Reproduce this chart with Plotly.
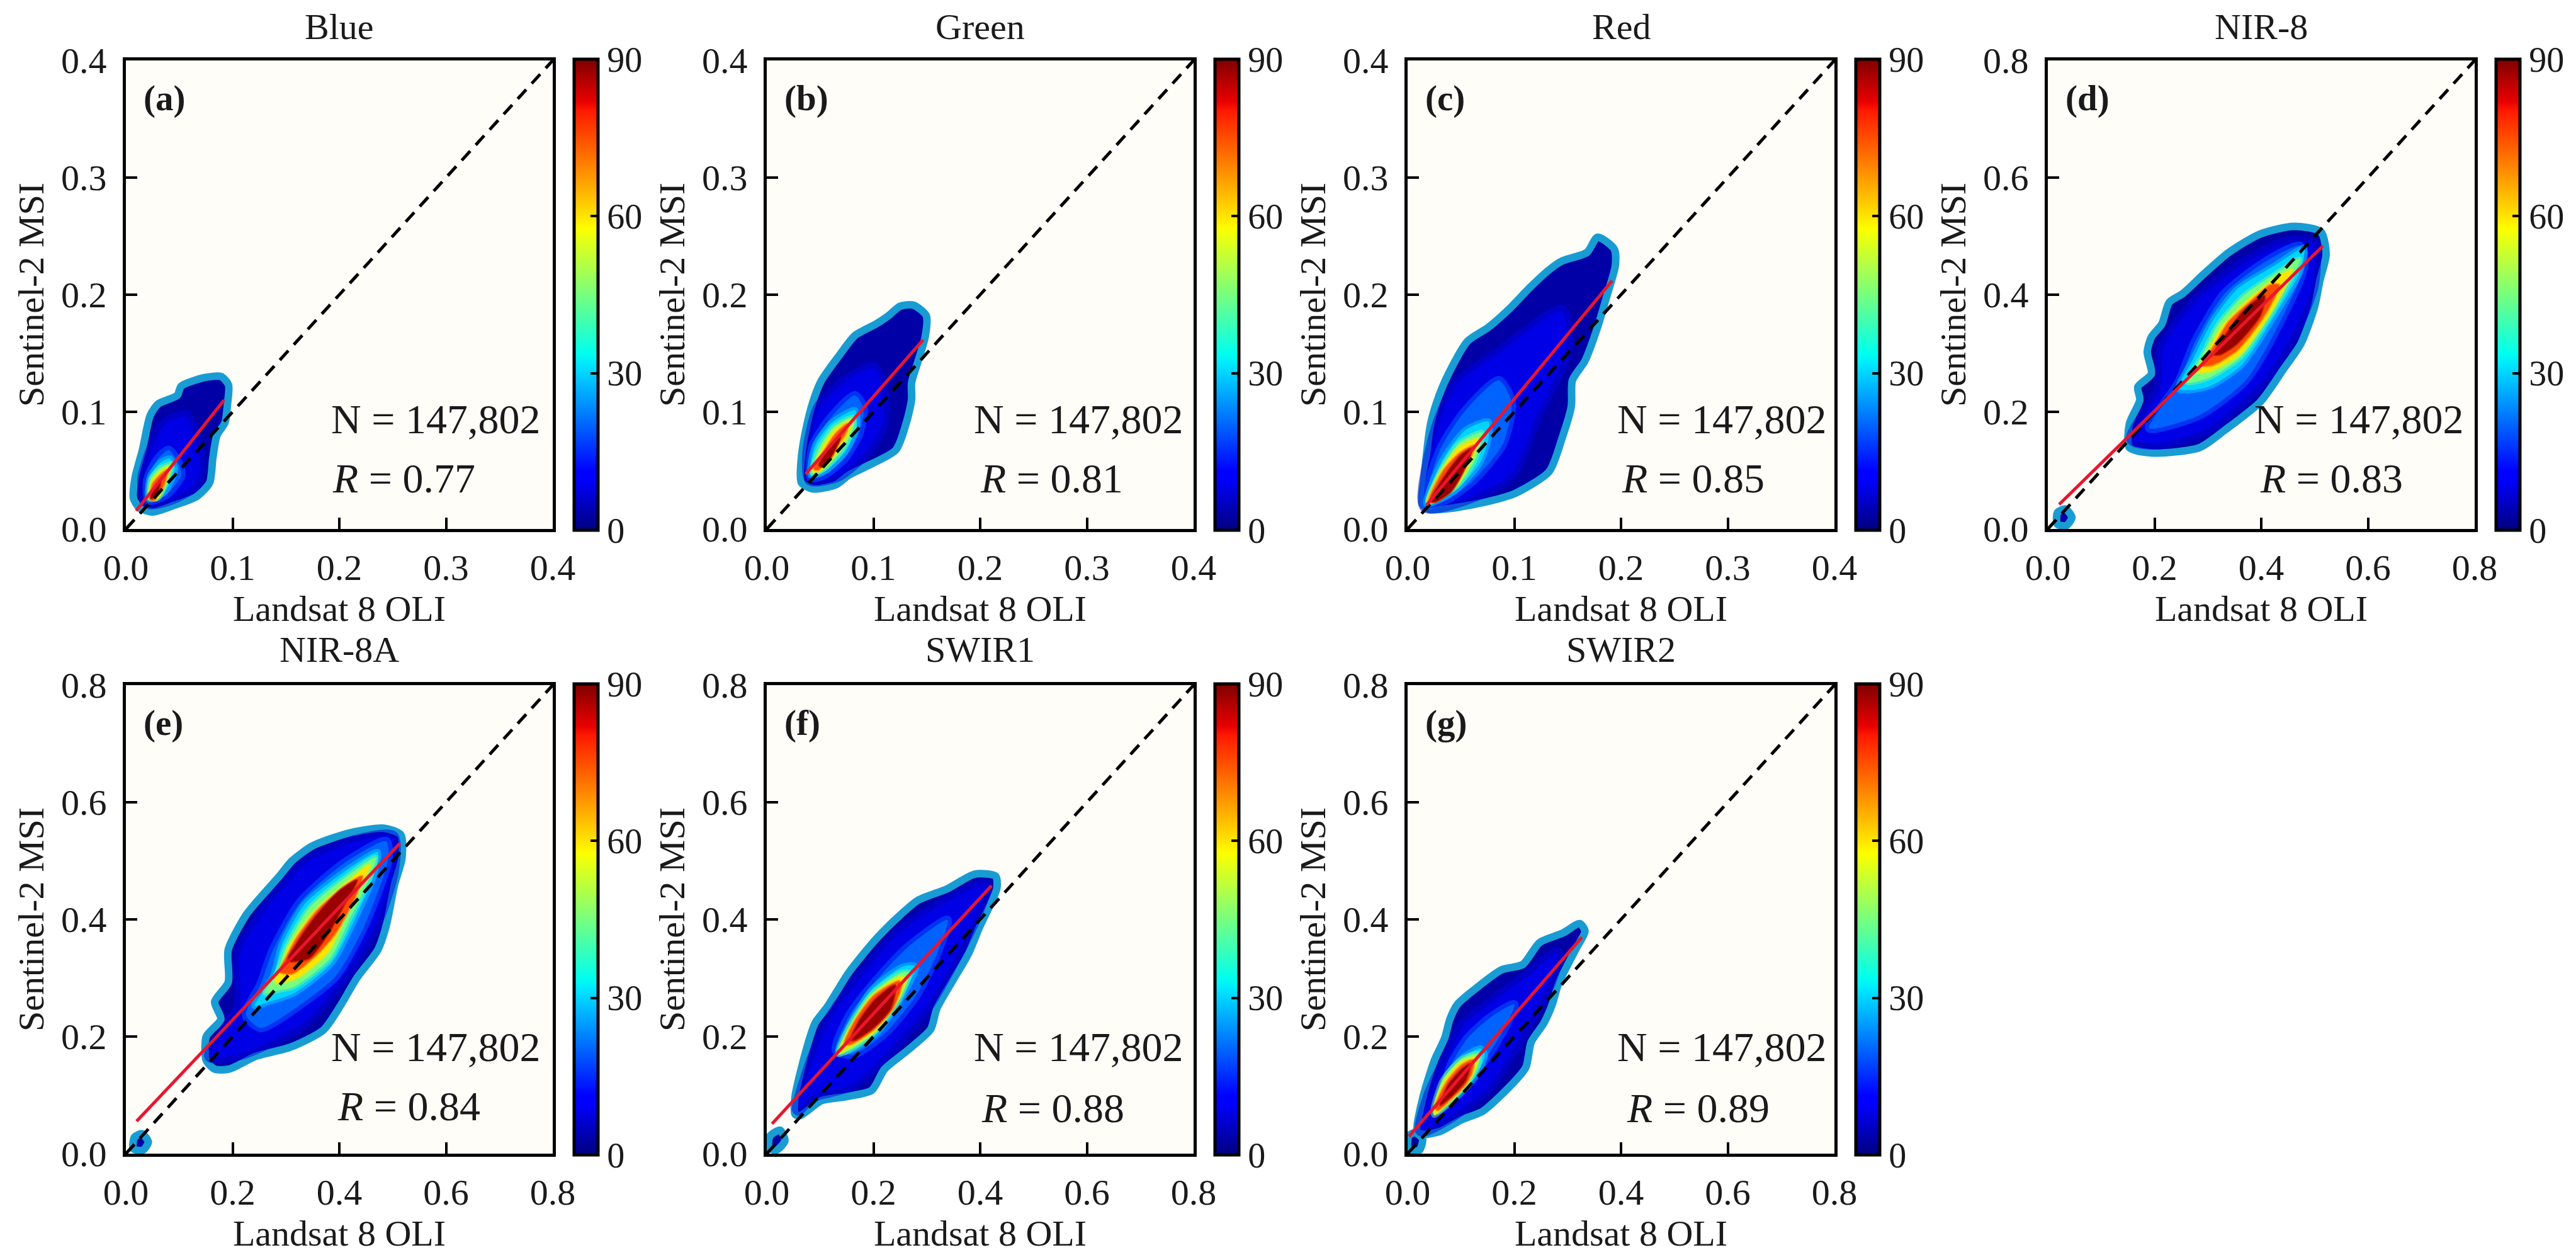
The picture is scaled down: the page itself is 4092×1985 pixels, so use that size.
import plotly.graph_objects as go

# panels, left to right then second row
panel_names = ["Blue", "Green", "Red", "NIR-8", "NIR-8A", "SWIR1", "SWIR2"]
panel_tags = ["(a)", "(b)", "(c)", "(d)", "(e)", "(f)", "(g)"]
r_values = ["0.77", "0.81", "0.85", "0.83", "0.84", "0.88", "0.89"]
n_label = "147,802"
axis_max = [0.4, 0.4, 0.4, 0.8, 0.8, 0.8, 0.8]
axis_step = [0.1, 0.1, 0.1, 0.2, 0.2, 0.2, 0.2]
cbar_ticks = [0, 30, 60, 90]

# density levels of the nested zones, read against the colour bar
rim_level_color = "#189cd3"
base_level = 3
zone_levels = [8, 20, 30, 45, 60, 75, 88]
zone_soft_px = [20, 14, 10, 8, 6, 4, 4]

# fit line ends, (x0, y0), (x1, y1)
fit_a = [(0.0096, 0.0156), (0.092, 0.110)]
fit_b = [(0.0364, 0.0468), (0.1465, 0.1615)]
fit_c = [(0.0177, 0.0204), (0.1917, 0.2120)]
fit_d = [(0.0212, 0.0419), (0.5157, 0.4833)]
fit_e = [(0.0200, 0.0553), (0.5133, 0.5296)]
fit_f = [(0.0098, 0.0509), (0.4213, 0.4577)]
fit_g = [(0.0024, 0.0294), (0.3265, 0.3695)]

# outer edge of the point cloud in each panel
rim_a = [(.0254, .0145), (.0126, .0181), (.0071, .0262), (.0087, .0441), (.0155, .0674), (.0228, .0970),
         (.0303, .1068), (.0480, .1140), (.0519, .1220), (.0735, .1292), (.0893, .1301), (.0962, .1229),
         (.0952, .1068), (.0928, .0907), (.0853, .0799), (.0814, .0602), (.0785, .0396), (.0667, .0280),
         (.0441, .0199)]
rim_b = [(.0433, .0342), (.0324, .0396), (.0324, .0602), (.0364, .0835), (.0433, .1086), (.0511, .1265),
         (.0678, .1480), (.0826, .1651), (.1023, .1749), (.1141, .1821), (.1249, .1901), (.1377, .1910),
         (.1495, .1821), (.1485, .1642), (.1416, .1427), (.1357, .1247), (.1357, .1104), (.1308, .0907),
         (.1209, .0674), (.0924, .0530), (.0767, .0459), (.0649, .0378)]
rim_c = [(.0206, .0167), (.0138, .0213), (.0157, .0454), (.0216, .0898), (.0295, .1139), (.0393, .1343),
         (.0560, .1602), (.0757, .1722), (.0954, .1880), (.1150, .2065), (.1327, .2213), (.1445, .2287),
         (.1681, .2361), (.1780, .2491), (.1937, .2389), (.1947, .2250), (.1868, .1991), (.1770, .1694),
         (.1662, .1435), (.1544, .1269), (.1534, .1046), (.1445, .0769), (.1327, .0491), (.1013, .0306),
         (.0737, .0231), (.0403, .0176)]
rim_d = [(.1529, .1389), (.1529, .1796), (.1725, .2204), (.1686, .2426), (.1941, .2648), (.1863, .3019),
         (.1941, .3278), (.2137, .3500), (.2275, .3870), (.2529, .4019), (.2922, .4352), (.3392, .4722),
         (.3980, .5037), (.4608, .5167), (.5118, .5074), (.5216, .4685), (.5098, .4241), (.5000, .3796),
         (.4745, .3167), (.4412, .2722), (.3980, .2167), (.3314, .1685), (.2843, .1389), (.1980, .1296)]
rim_e = [(.1506, .1593), (.1506, .2000), (.1780, .2296), (.1663, .2593), (.1918, .2926), (.1918, .3481),
         (.2251, .4074), (.2447, .4296), (.2878, .4741), (.3114, .5000), (.3506, .5259), (.4212, .5481),
         (.4839, .5556), (.5153, .5444), (.5173, .5037), (.5035, .4593), (.4878, .3889), (.4722, .3481),
         (.4329, .3000), (.4016, .2519), (.3702, .2111), (.3075, .1815), (.2447, .1667), (.1937, .1444),
         (.1663, .1444)]
rim_f = [(.0531, .0670), (.0531, .0975), (.0748, .1799), (.0906, .2229), (.1142, .2516), (.1535, .3090),
         (.2047, .3663), (.2480, .4057), (.2835, .4326), (.3386, .4523), (.3898, .4774), (.4291, .4738),
         (.4311, .4523), (.3976, .3842), (.3780, .3412), (.3504, .2982), (.3189, .2480), (.3071, .2122),
         (.2638, .1763), (.2205, .1441), (.1969, .1082), (.1496, .0975), (.1024, .0903), (.0630, .0652)]
rim_g = [(.0182, .0365), (.0281, .0938), (.0498, .1583), (.0696, .1976), (.0794, .2299), (.0933, .2549),
         (.1249, .2800), (.1763, .3140), (.2158, .3230), (.2474, .3605), (.2909, .3767), (.3225, .3928),
         (.3324, .3802), (.3146, .3480), (.2830, .2907), (.2711, .2549), (.2553, .2227), (.2316, .1905),
         (.2217, .1475), (.1960, .1189), (.1407, .0723), (.1012, .0580), (.0617, .0383), (.0340, .0329)]

# small cluster near the origin (absent in a, b, c)
spot_d = [(.018, .008), (.018, .028), (.033, .034), (.045, .020), (.035, .006)]
spot_e = [(.014, .008), (.016, .028), (.030, .034), (.042, .020), (.032, .006)]
spot_f = [(.004, .010), (.006, .030), (.025, .040), (.034, .022), (.018, .006)]
spot_g = [(.002, .006), (.002, .030), (.014, .036), (.028, .025), (.022, .006)]

# zones, one outline per entry of zone_levels
zones_a = [
    [(.0205, .0226), (.0165, .0423), (.0244, .0674), (.0362, .0889), (.0558, .0961), (.0657, .0746), (.0696, .0530), (.0637, .0369), (.0401, .0253)],
    [(.0214, .0244), (.0204, .0423), (.0303, .0602), (.0401, .0674), (.0490, .0566), (.0519, .0459), (.0381, .0297)],
    [(.0214, .0253), (.0224, .0441), (.0323, .0566), (.0411, .0602), (.0460, .0513), (.0362, .0315)],
    [(.0220, .0262), (.0234, .0432), (.0323, .0522), (.0431, .0557), (.0372, .0387), (.0303, .0262)],
    [(.0220, .0262), (.0244, .0405), (.0332, .0495), (.0411, .0530), (.0362, .0369), (.0283, .0253)],
    [(.0224, .0262), (.0254, .0387), (.0342, .0477), (.0391, .0504), (.0342, .0351), (.0254, .0244)],
    [(.0234, .0262), (.0264, .0342), (.0323, .0405), (.0283, .0280)],
]
zones_b = [
    [(.0413, .0423), (.0393, .0656), (.0492, .1032), (.0747, .1265), (.1003, .1373), (.1082, .1211), (.1082, .0889), (.0924, .0656), (.0669, .0459)],
    [(.0413, .0441), (.0433, .0710), (.0610, .0961), (.0826, .1140), (.0905, .1032), (.0865, .0817), (.0728, .0602), (.0531, .0459)],
    [(.0413, .0459), (.0452, .0710), (.0610, .0907), (.0826, .1014), (.0846, .0889), (.0747, .0674), (.0551, .0495)],
    [(.0423, .0477), (.0492, .0692), (.0629, .0871), (.0806, .0953), (.0816, .0871), (.0708, .0674), (.0511, .0495)],
    [(.0433, .0495), (.0511, .0665), (.0639, .0844), (.0787, .0925), (.0767, .0835), (.0688, .0692), (.0492, .0495)],
    [(.0442, .0513), (.0531, .0656), (.0649, .0817), (.0757, .0898), (.0747, .0835), (.0659, .0710), (.0482, .0504)],
    [(.0492, .0548), (.0610, .0710), (.0688, .0781), (.0610, .0620), (.0511, .0530)],
]
zones_c = [
    [(.0167, .0194), (.0265, .0824), (.0462, .1231), (.0895, .1528), (.1445, .1861), (.1485, .1528), (.1209, .0972), (.0973, .0472), (.0580, .0269)],
    [(.0167, .0204), (.0305, .0676), (.0541, .1009), (.0855, .1269), (.0973, .1083), (.0895, .0731), (.0619, .0417), (.0364, .0250)],
    [(.0177, .0213), (.0324, .0583), (.0541, .0843), (.0757, .0917), (.0757, .0769), (.0678, .0565), (.0442, .0324)],
    [(.0187, .0222), (.0305, .0491), (.0482, .0731), (.0698, .0824), (.0639, .0602), (.0482, .0380), (.0305, .0269)],
    [(.0187, .0231), (.0324, .0509), (.0482, .0694), (.0659, .0769), (.0580, .0565), (.0442, .0361), (.0285, .0250)],
    [(.0197, .0231), (.0344, .0509), (.0501, .0657), (.0629, .0713), (.0541, .0528), (.0423, .0343), (.0265, .0231)],
    [(.0216, .0241), (.0364, .0472), (.0501, .0630), (.0600, .0685), (.0521, .0491), (.0403, .0315), (.0256, .0231)],
]
zones_d = [
    [(.1588, .1537), (.2098, .2389), (.2176, .3130), (.2765, .3870), (.3627, .4500), (.4412, .4870), (.4961, .4870), (.4961, .4167), (.4647, .3426), (.4020, .2537), (.3000, .1722), (.2059, .1463)],
    [(.1902, .1722), (.2451, .2500), (.2765, .3204), (.3314, .4019), (.4098, .4574), (.4725, .4833), (.4804, .4500), (.4333, .3500), (.3706, .2537), (.2843, .1944)],
    [(.2451, .2389), (.2725, .2907), (.3078, .3537), (.3549, .4093), (.4255, .4500), (.4804, .4796), (.4725, .4389), (.4255, .3648), (.3627, .2796), (.3000, .2426)],
    [(.2608, .2500), (.2882, .2944), (.3196, .3500), (.3667, .3981), (.4255, .4352), (.4725, .4611), (.4608, .4352), (.4216, .3722), (.3627, .2944), (.3000, .2574)],
    [(.2804, .2685), (.3000, .3019), (.3275, .3463), (.3706, .3870), (.4216, .4241), (.4569, .4426), (.4451, .4167), (.4137, .3648), (.3588, .2981), (.3000, .2685)],
    [(.2882, .2796), (.3118, .3130), (.3392, .3537), (.3784, .3870), (.4176, .4167), (.4333, .4167), (.4059, .3648), (.3549, .3056), (.3078, .2796)],
    [(.3118, .2981), (.3392, .3389), (.3706, .3759), (.4059, .3981), (.3980, .3648), (.3549, .3167), (.3235, .2981)],
]
zones_e = [
    [(.1584, .1667), (.2133, .2519), (.2133, .3407), (.2604, .4148), (.3388, .4963), (.4290, .5333), (.4996, .5407), (.4996, .4815), (.4682, .3926), (.4094, .3037), (.3310, .2222), (.2133, .1704)],
    [(.2251, .2370), (.2525, .2889), (.2761, .3481), (.3271, .4296), (.4094, .4963), (.4878, .5333), (.4918, .5037), (.4486, .3926), (.3937, .3037), (.3231, .2519), (.2525, .2148)],
    [(.2412, .2519), (.2761, .3037), (.2918, .3556), (.3349, .4259), (.4094, .4815), (.4722, .5148), (.4643, .4741), (.4290, .4000), (.3859, .3259), (.3153, .2741), (.2682, .2593)],
    [(.2604, .2741), (.2839, .3111), (.2996, .3519), (.3427, .4185), (.4094, .4704), (.4682, .5056), (.4565, .4704), (.4212, .4037), (.3820, .3333), (.3153, .2852), (.2800, .2778)],
    [(.2800, .2926), (.2918, .3185), (.3075, .3556), (.3506, .4111), (.4094, .4593), (.4565, .4926), (.4447, .4667), (.4133, .4111), (.3780, .3444), (.3192, .3000)],
    [(.2878, .3111), (.2996, .3333), (.3192, .3667), (.3584, .4148), (.4094, .4556), (.4427, .4741), (.4290, .4370), (.3937, .3778), (.3584, .3407), (.3114, .3074)],
    [(.3035, .3296), (.3231, .3630), (.3545, .4037), (.4016, .4500), (.4329, .4667), (.4094, .4259), (.3780, .3741), (.3427, .3333)],
]
zones_f = [
    [(.0591, .0760), (.0866, .1620), (.1220, .2337), (.1732, .2982), (.2480, .3771), (.3386, .4309), (.4094, .4595), (.3898, .4022), (.3504, .3305), (.3031, .2552), (.2323, .1799), (.1614, .1190), (.0827, .0975)],
    [(.1299, .1763), (.1535, .2337), (.2008, .2910), (.2638, .3520), (.3386, .3986), (.3189, .3412), (.2795, .2695), (.2205, .2050), (.1614, .1692)],
    [(.1339, .1728), (.1575, .2229), (.1969, .2803), (.2559, .3196), (.2795, .3196), (.2520, .2659), (.2087, .2086), (.1654, .1799)],
    [(.1339, .1692), (.1535, .2158), (.1969, .2731), (.2520, .3090), (.2677, .3090), (.2480, .2624), (.2047, .2086), (.1614, .1799)],
    [(.1358, .1728), (.1575, .2158), (.1969, .2695), (.2520, .3018), (.2598, .2982), (.2402, .2552), (.2008, .2086), (.1575, .1835)],
    [(.1457, .1871), (.1654, .2265), (.2008, .2695), (.2480, .2946), (.2520, .2875), (.2362, .2480), (.2008, .2122), (.1575, .1871)],
    [(.1575, .1943), (.1732, .2265), (.2047, .2642), (.2402, .2875), (.2323, .2480), (.2008, .2158), (.1654, .1943)],
]
zones_g = [
    [(.0261, .0401), (.0419, .1010), (.0775, .1690), (.1051, .2191), (.1644, .2621), (.2277, .3051), (.2791, .3409), (.2672, .2943), (.2277, .2263), (.1960, .1761), (.1486, .1117), (.0775, .0616)],
    [(.0656, .0974), (.0814, .1511), (.1130, .1976), (.1565, .2334), (.2000, .2549), (.1802, .2120), (.1407, .1547), (.1012, .1117), (.0617, .0795)],
    [(.0538, .0795), (.0735, .1332), (.1051, .1654), (.1368, .1797), (.1447, .1690), (.1289, .1332), (.0933, .0974), (.0577, .0723)],
    [(.0478, .0759), (.0656, .1260), (.1012, .1618), (.1328, .1708), (.1348, .1583), (.1170, .1260), (.0893, .0974), (.0498, .0652)],
    [(.0498, .0759), (.0696, .1242), (.1012, .1565), (.1289, .1636), (.1269, .1475), (.1130, .1224), (.0854, .0956), (.0518, .0687)],
    [(.0518, .0795), (.0735, .1224), (.1012, .1511), (.1229, .1600), (.1209, .1404), (.1091, .1189), (.0814, .0938), (.0557, .0741)],
    [(.0617, .0866), (.0775, .1189), (.1012, .1439), (.1170, .1529), (.1091, .1260), (.0854, .1010), (.0617, .0831)],
]

rims = [rim_a, rim_b, rim_c, rim_d, rim_e, rim_f, rim_g]
spots = [None, None, None, spot_d, spot_e, spot_f, spot_g]
zones = [zones_a, zones_b, zones_c, zones_d, zones_e, zones_f, zones_g]
fits = [fit_a, fit_b, fit_c, fit_d, fit_e, fit_f, fit_g]

# layout, pixels of the 4092x1985 page
W, H = 4092, 1985
FONT = "Liberation Serif"
left_px = [192, 1210, 2228, 3245, 192, 1210, 2228]
top_px = [88, 88, 88, 88, 1080, 1080, 1080]
panel_w, panel_h = 678, 744
title_y_px = [35, 35, 35, 35, 1023, 1023, 1023]
# N and R label offsets inside each panel
n_x = [324, 327, 331, 326, 324, 327, 331]
n_y = [175, 175, 175, 175, 170, 170, 170]
r_x = [326, 337, 338, 335, 334, 339, 346]
r_y = [81, 81, 81, 81, 76, 73, 73]

jet = [(0, "#00007f"), (0.11, "#0000ff"), (0.125, "#0000ff"), (0.35, "#00e5ff"), (0.375, "#00ffef"),
       (0.64, "#fcff00"), (0.66, "#ffea00"), (0.89, "#ff1a00"), (0.91, "#e80000"), (1, "#7f0000")]


def level_color(v, alpha=1):
    t = v / 90
    for (t0, c0), (t1, c1) in zip(jet, jet[1:]):
        if t <= t1:
            f = (t - t0) / (t1 - t0)
            rgb = [round(int(c0[k:k + 2], 16) * (1 - f) + int(c1[k:k + 2], 16) * f) for k in (1, 3, 5)]
            return "rgba(%d,%d,%d,%s)" % (*rgb, alpha)
    return jet[-1][1]


def blob(points, axis_id, fill, line_color=None, line_width=0):
    xs, ys = zip(*(list(points) + list(points[:1])))
    return go.Scatter(x=xs, y=ys, xaxis="x" + axis_id, yaxis="y" + axis_id, mode="lines", fill="toself",
                      fillcolor=fill, hoverinfo="skip", showlegend=False,
                      line=dict(shape="spline", smoothing=0.7, color=line_color or fill, width=line_width))


fig = go.Figure()
layout = {}
notes = []
for i in range(7):
    n = i + 1
    aid = "" if i == 0 else str(n)
    x0, y0 = left_px[i], top_px[i]

    layout["xaxis" + aid] = dict(
        domain=[x0 / W, (x0 + panel_w) / W], range=[0, axis_max[i]], dtick=axis_step[i], tick0=0,
        tickformat=".1f", ticks="inside", ticklen=18, tickwidth=4, tickcolor="black", showgrid=False,
        zeroline=False, showline=True, linecolor="black", linewidth=5, mirror=True, anchor="y" + aid,
        ticklabelstandoff=6, tickfont=dict(family=FONT, size=58, color="#1a1a1a"),
        title=dict(text="Landsat 8 OLI", standoff=4, font=dict(family=FONT, size=58, color="#1a1a1a")))
    layout["yaxis" + aid] = dict(
        domain=[1 - (y0 + panel_h) / H, 1 - y0 / H], range=[0, axis_max[i]], dtick=axis_step[i], tick0=0,
        tickformat=".1f", ticks="inside", ticklen=18, tickwidth=4, tickcolor="black", showgrid=False,
        zeroline=False, showline=True, linecolor="black", linewidth=5, mirror=True, anchor="x" + aid,
        ticklabelstandoff=14, tickfont=dict(family=FONT, size=58, color="#1a1a1a"),
        title=dict(text="Sentinel-2 MSI", standoff=10, font=dict(family=FONT, size=58, color="#1a1a1a")))
    layout["coloraxis" + aid] = dict(
        cmin=0, cmax=90, colorscale=[[t, c] for t, c in jet],
        colorbar=dict(x=(x0 + panel_w + 34) / W, xanchor="left", y=1 - (y0 - 2) / H, yanchor="top",
                      len=panel_h + 4, lenmode="pixels", thickness=38, thicknessmode="pixels", xpad=0, ypad=0,
                      outlinewidth=5, outlinecolor="black", tickvals=cbar_ticks, ticks="inside", ticklen=14,
                      tickwidth=4, tickcolor="black", tickfont=dict(family=FONT, size=56, color="#1a1a1a")))

    # point cloud, outer zone first
    fig.add_trace(blob(rims[i], aid, level_color(base_level), rim_level_color, 12))
    if spots[i]:
        fig.add_trace(blob(spots[i], aid, level_color(base_level), rim_level_color, 12))
    for lev, soft, pts in zip(zone_levels, zone_soft_px, zones[i]):
        # half transparent edge softens the step to the zone below
        fig.add_trace(blob(pts, aid, level_color(lev), level_color(lev, 0.5), soft))

    # 1:1 line and fit line
    fig.add_trace(go.Scatter(x=[0, axis_max[i]], y=[0, axis_max[i]], xaxis="x" + aid, yaxis="y" + aid, mode="lines",
                             line=dict(color="black", width=5, dash="20px,13px"), showlegend=False, hoverinfo="skip"))
    fx, fy = zip(*fits[i])
    fig.add_trace(go.Scatter(x=fx, y=fy, xaxis="x" + aid, yaxis="y" + aid, mode="lines",
                             line=dict(color="#e8162e", width=5), showlegend=False, hoverinfo="skip"))

    # invisible trace, only there to carry the colour bar
    fig.add_trace(go.Scatter(x=[None, None], y=[None, None], xaxis="x" + aid, yaxis="y" + aid, mode="markers",
                             marker=dict(color=[0, 90], coloraxis="coloraxis" + aid), showlegend=False, hoverinfo="skip"))

    notes.append(dict(text=panel_names[i], xref="paper", yref="paper", x=(x0 + panel_w / 2) / W, y=1 - title_y_px[i] / H,
                      showarrow=False, xanchor="center", yanchor="middle", font=dict(family=FONT, size=58, color="#1a1a1a")))
    notes.append(dict(text="<b>%s</b>" % panel_tags[i], xref="paper", yref="paper", x=(x0 + 26) / W, y=1 - (y0 + 60) / H,
                      showarrow=False, xanchor="left", yanchor="middle", font=dict(family=FONT, size=57, color="#1a1a1a")))
    notes.append(dict(text="N = " + n_label, xref="paper", yref="paper", x=(x0 + n_x[i]) / W,
                      y=1 - (y0 + panel_h - n_y[i]) / H, showarrow=False, xanchor="left", yanchor="middle",
                      font=dict(family=FONT, size=66, color="#1a1a1a")))
    notes.append(dict(text="<i>R</i> = " + r_values[i], xref="paper", yref="paper", x=(x0 + r_x[i]) / W,
                      y=1 - (y0 + panel_h - r_y[i]) / H, showarrow=False, xanchor="left", yanchor="middle",
                      font=dict(family=FONT, size=66, color="#1a1a1a")))

fig.update_layout(width=W, height=H, margin=dict(l=0, r=0, t=0, b=0, autoexpand=False), paper_bgcolor="white",
                  plot_bgcolor="#fffdf8", showlegend=False, annotations=notes, **layout)
fig.write_html("out.html")
